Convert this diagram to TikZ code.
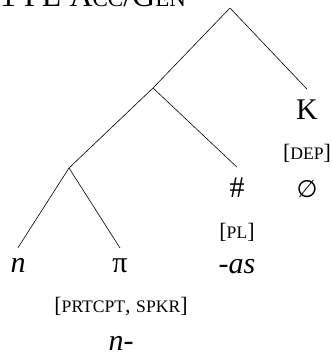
\documentclass[tikz,border=0pt]{standalone}
\usepackage{fontspec}
\setmainfont{Liberation Serif}
\newfontfamily\symfont{DejaVu Sans}
\usetikzlibrary{positioning}
% fake small caps
\newcommand{\fsc}[1]{{\fontsize{17.6}{20}\selectfont\MakeUppercase{#1}}}
\tikzstyle{leaf} = [
    anchor=base,
    inner xsep=0pt,
    inner ysep=10pt,
    font=\fontsize{30}{34}\selectfont
]
\tikzstyle{feature} = [
    anchor=base,
    inner sep=0pt,
    font=\fontsize{22}{26}\selectfont
]
\tikzstyle{branch} = [line width=0.6pt]

\begin{document}
\begin{tikzpicture}[x=1pt, y=-1pt]

\clip (0,0) rectangle (332,354);

\node (gloss) [anchor=base west, inner sep=0pt, font=\fontsize{32}{36}\selectfont]
    at (0,6) {1 PL A{\fontsize{23}{26}\selectfont CC}/G{\fontsize{23}{26}\selectfont EN}};

\coordinate (root) at (230,8);
\coordinate (dp) at (153,88);
\coordinate (np) at (69,168);

\node (k) [leaf] at (307,119) {K};
\node (dep) [feature] at (307,159) {[\fsc{dep}]};
\node (null) [leaf] at (307,197) {\symfont\fontsize{24}{28}\selectfont ∅};

\node (hash) [leaf] at (237,197) {\#};
\node (pl) [feature] at (237,238) {[\fsc{pl}]};
\node (as) [leaf] at (237,273) {\textit{-as}};

\node (n) [leaf] at (18,272) {\textit{n}};
\node (pi) [leaf] at (120,272) {π};
\node (person) [feature] at (121,312) {[\fsc{prtcpt}, \fsc{spkr}]};
\node (nhyph) [leaf] at (121,350) {\textit{n-}};

\draw [branch] (root) -- (k.north);
\draw [branch] (root) -- (dp);
\draw [branch] (dp) -- (hash.north);
\draw [branch] (dp) -- (np);
\draw [branch] (np) -- (n.north);
\draw [branch] (np) -- (pi.north);

\end{tikzpicture}
\end{document}
